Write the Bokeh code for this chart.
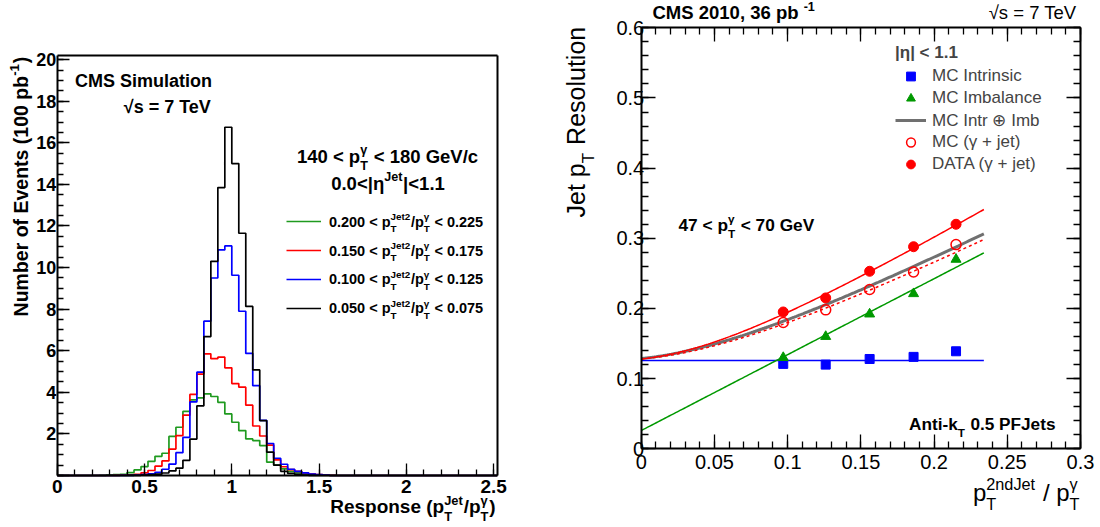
import numpy as np
from math import pi, cos, sin
from bokeh.plotting import figure
from bokeh.layouts import row
from bokeh.models import Range1d, FixedTicker, LinearAxis, Label, Legend, LegendItem
from bokeh.embed import file_html
from bokeh.resources import INLINE

FONT = "Liberation Sans"

# ---------------- left panel data: response histograms ----------------
bin_low = [0.20, 0.24, 0.28, 0.32, 0.36, 0.40, 0.44, 0.48, 0.52, 0.56,
           0.60, 0.64, 0.68, 0.72, 0.76, 0.80, 0.84, 0.88, 0.92, 0.96,
           1.00, 1.04, 1.08, 1.12, 1.16, 1.20, 1.24, 1.28, 1.32, 1.36,
           1.40, 1.44, 1.48, 1.52, 1.56]
BIN_W = 0.04
XL = (0.0, 2.52)
YL = (0.0, 20.2)

h_green = [0.00, 0.01, 0.03, 0.04, 0.06, 0.14, 0.27, 0.43, 0.68, 0.92,
           1.07, 1.88, 2.32, 3.08, 3.64, 3.73, 3.93, 3.80, 3.52, 2.96,
           2.56, 2.16, 1.76, 1.68, 1.44, 0.64, 0.50, 0.32, 0.20, 0.13,
           0.08, 0.05, 0.03, 0.02, 0.01]
h_red = [0.00, 0.00, 0.00, 0.01, 0.02, 0.03, 0.06, 0.13, 0.24, 0.45,
         0.70, 1.27, 1.92, 2.90, 3.90, 4.88, 5.85, 5.62, 5.69, 5.18,
         4.42, 4.25, 3.38, 2.38, 1.90, 1.46, 0.75, 0.42, 0.28, 0.20,
         0.12, 0.07, 0.04, 0.02, 0.01]
h_blue = [0.00, 0.00, 0.00, 0.00, 0.01, 0.01, 0.02, 0.04, 0.08, 0.15,
          0.30, 0.55, 1.10, 1.83, 3.54, 4.97, 7.42, 9.50, 10.85, 11.04,
          9.63, 7.90, 5.87, 4.32, 2.65, 1.54, 0.83, 0.54, 0.30, 0.20,
          0.13, 0.07, 0.04, 0.02, 0.00]
h_black = [0.00, 0.00, 0.00, 0.00, 0.00, 0.01, 0.01, 0.02, 0.04, 0.07,
           0.12, 0.22, 0.35, 0.73, 1.75, 3.35, 6.68, 10.30, 13.85, 16.75,
           15.00, 11.65, 8.13, 5.08, 2.64, 1.12, 0.50, 0.20, 0.10, 0.05,
           0.02, 0.01, 0.00, 0.00, 0.00]
hist_ranges = [("0.200", "0.225"), ("0.150", "0.175"), ("0.100", "0.125"), ("0.050", "0.075")]
hist_series = [h_green, h_red, h_blue, h_black]
hist_colors = ["#1f9a1f", "#ff0000", "#0000ff", "#000000"]

left_xticks = [0.0, 0.5, 1.0, 1.5, 2.0, 2.5]
left_xlabels = ["0", "0.5", "1", "1.5", "2", "2.5"]
left_xminor = [round(0.1 * i, 2) for i in range(26)]
left_yticks = [0, 2, 4, 6, 8, 10, 12, 14, 16, 18, 20]
left_ylabels = ["", "2", "4", "6", "8", "10", "12", "14", "16", "18", "20"]
left_yminor = [0.5 * i for i in range(41)]

# ---------------- right panel data: resolution vs 2nd jet fraction ----------------
XR = (0.0, 0.3)
YR = (0.0, 0.6)
x_pts = [0.097, 0.126, 0.156, 0.186, 0.215]
mc_intrinsic = [0.121, 0.120, 0.128, 0.131, 0.139]
mc_imbalance = [0.130, 0.160, 0.192, 0.221, 0.270]
mc_gjet = [0.180, 0.198, 0.227, 0.252, 0.291]
data_gjet = [0.195, 0.215, 0.253, 0.288, 0.320]

# fit parameters
INTR_CONST = 0.126
IMB_C, IMB_K = 0.026, 1.082
MCFIT_C, MCFIT_K = 0.0225, 1.059
DATAFIT_C, DATAFIT_K = 0.0225, 1.258
FIT_XMAX = 0.234

right_xticks = [0.0, 0.05, 0.1, 0.15, 0.2, 0.25, 0.3]
right_xlabels = ["0", "0.05", "0.1", "0.15", "0.2", "0.25", "0.3"]
right_xminor = [round(0.01 * i, 2) for i in range(31)]
right_yticks = [0.0, 0.1, 0.2, 0.3, 0.4, 0.5, 0.6]
right_ylabels = ["0", "0.1", "0.2", "0.3", "0.4", "0.5", "0.6"]
right_yminor = [round(0.02 * i, 2) for i in range(31)]

# ---------------- layout (pixels) ----------------
FIG_H = 527
W_LEFT, W_RIGHT = 540, 560
L_BOX = (56.7, 496.7, 55.0, 475.0)                       # left, right, top, bottom of plot box
R_BOX = (640.7 - W_LEFT, 1080.0 - W_LEFT, 27.3, 448.3)


def ranges(box, xr, yr, width):
    l, r, t, b = box
    sx = (r - l) / (xr[1] - xr[0])
    sy = (b - t) / (yr[1] - yr[0])
    x_range = Range1d(xr[0] - l / sx, xr[1] + (width - r) / sx)
    y_range = Range1d(yr[0] - (FIG_H - b) / sy, yr[1] + t / sy)
    return x_range, y_range


# ---------------- rich text helper ----------------
BOLD_W = {' ': 278, '.': 278, ',': 278, '<': 584, '=': 584, '+': 584, '-': 333, '/': 278,
          '(': 333, ')': 333, '|': 280, 'A': 722, 'C': 722, 'D': 722, 'E': 667, 'F': 611,
          'G': 778, 'J': 556, 'M': 833, 'N': 722, 'P': 667, 'R': 722, 'S': 667, 'T': 611,
          'V': 667, 'I': 278, 'a': 556, 'b': 611, 'c': 556, 'd': 611, 'e': 556, 'f': 333,
          'i': 278, 'j': 278, 'k': 556, 'l': 278, 'm': 889, 'n': 611, 'o': 611, 'p': 611,
          'r': 389, 's': 556, 't': 333, 'u': 611, 'v': 556, 'η': 611, 'γ': 556, '√': 549}
REG_W = {' ': 278, '.': 278, ',': 278, '<': 584, '=': 584, '+': 584, '-': 333, '/': 278,
         '(': 333, ')': 333, '|': 260, 'A': 667, 'C': 722, 'D': 722, 'E': 667, 'F': 611,
         'G': 778, 'J': 500, 'M': 833, 'N': 722, 'P': 667, 'R': 722, 'S': 667, 'T': 611,
         'V': 667, 'I': 278, 'a': 556, 'b': 556, 'c': 500, 'd': 556, 'e': 556, 'f': 278,
         'i': 222, 'j': 222, 'k': 500, 'l': 222, 'm': 833, 'n': 556, 'o': 556, 'p': 556,
         'r': 333, 's': 500, 't': 278, 'u': 556, 'v': 500, 'η': 556, 'γ': 500, '√': 549}
SCRIPT = 0.68
SUP_RISE = 0.45
SUB_DROP = 0.38
MID = 0.36      # distance from baseline to the middle of the text box, in font sizes


def tw(s, size, bold):
    tab = BOLD_W if bold else REG_W
    return sum(tab.get(c, 556) for c in s) * size / 1000.0


def rich(p, x, y_top, parts, size, bold=True, align="left", angle=0.0, color="black"):
    """x from the figure's left edge, y_top = baseline from the figure's top edge (pixels)."""
    y = FIG_H - y_top
    ss = size * SCRIPT
    pieces = []
    adv = 0.0
    for part in parts:
        if isinstance(part, str):
            lead = len(part) - len(part.lstrip())
            txt = part.strip()
            if txt:
                pieces.append((adv + tw(part[:lead], size, bold), 0.0, txt, size))
            adv += tw(part, size, bold)
        else:
            sub, sup = part
            w = 0.0
            if sub:
                pieces.append((adv, -SUB_DROP * size, sub, ss))
                w = max(w, tw(sub, ss, bold))
            if sup:
                pieces.append((adv, SUP_RISE * size, sup, ss))
                w = max(w, tw(sup, ss, bold))
            adv += w + 0.04 * size
    start = {"left": 0.0, "center": -adv / 2.0, "right": -adv}[align]
    c, s = cos(angle), sin(angle)
    for dx, rise, txt, fs in pieces:
        a = start + dx
        r = rise + MID * fs
        p.add_layout(Label(x=x, y=y, x_units="screen", y_units="screen",
                           x_offset=a * c - r * s, y_offset=a * s + r * c,
                           text=txt, angle=angle, text_font=FONT,
                           text_font_size=f"{fs:.1f}px",
                           text_font_style="bold" if bold else "normal",
                           text_baseline="middle", text_align="left",
                           text_color=color))


def make_axis(loc, bounds, ticks, minor, labels, size, bold, major_in, minor_in, standoff):
    ax = LinearAxis(fixed_location=loc, bounds=bounds,
                    ticker=FixedTicker(ticks=ticks, minor_ticks=minor))
    if labels is not None:
        ax.major_label_overrides = dict(zip(ticks, labels))
        ax.major_label_text_font_size = f"{size}px"
    else:
        ax.major_label_overrides = {t: "" for t in ticks}
        ax.major_label_text_font_size = "0px"
    ax.major_tick_in = major_in
    ax.major_tick_out = 0
    ax.minor_tick_in = minor_in
    ax.minor_tick_out = 0
    ax.major_tick_line_width = 1.3
    ax.minor_tick_line_width = 1.3
    ax.axis_line_width = 2
    ax.axis_line_color = "black"
    ax.major_label_text_font = FONT
    ax.major_label_text_font_style = "bold" if bold else "normal"
    ax.major_label_text_color = "black"
    ax.major_label_standoff = standoff
    return ax


def base_figure(width, x_range, y_range):
    p = figure(width=width, height=FIG_H, x_range=x_range, y_range=y_range,
               x_axis_type=None, y_axis_type=None,
               output_backend="svg", toolbar_location=None,
               min_border_left=0, min_border_right=0, min_border_top=0, min_border_bottom=0)
    p.title.visible = False
    p.xgrid.visible = False
    p.ygrid.visible = False
    p.outline_line_color = None
    p.background_fill_color = "white"
    p.border_fill_color = "white"
    return p


# ---------------- left figure ----------------
xr1, yr1 = ranges(L_BOX, XL, YL, W_LEFT)
p1 = base_figure(W_LEFT, xr1, yr1)
p1.add_layout(make_axis(YL[0], XL, left_xticks, left_xminor, left_xlabels, 19, True, 12, 6, 4), "below")
p1.add_layout(make_axis(XL[0], YL, left_yticks, left_yminor, left_ylabels, 18, True, 12, 6, 1), "left")
p1.add_layout(make_axis(XL[1], YL, [], [], None, 0, False, 0, 0, 0), "right")
p1.add_layout(make_axis(YL[1], XL, [], [], None, 0, False, 0, 0, 0), "above")

hist_renderers = []
for counts, col in zip(hist_series, hist_colors):
    xs = [XL[0]] + bin_low + [bin_low[-1] + BIN_W, XL[1]]
    ys = [0.0] + counts + [0.0, 0.0]
    hist_renderers.append(p1.step(xs, ys, mode="after", line_color=col, line_width=1.7))

leg1 = Legend(items=[LegendItem(label=" ", renderers=[r]) for r in hist_renderers],
              location=(285.5, FIG_H - 317.6), glyph_width=35, glyph_height=20, label_height=20,
              label_width=1, label_standoff=0, spacing=9, padding=0, margin=0,
              border_line_alpha=0, background_fill_alpha=0, label_text_font_size="1px")
p1.add_layout(leg1)

rich(p1, 74.4, 87.2, ["CMS Simulation"], 18, True)
rich(p1, 167.5, 113.0, ["√s = 7 TeV"], 18, True, align="center")
rich(p1, 387.0, 162.5, ["140 < p", ("T", "γ"), " < 180 GeV/c"], 18.5, True, align="center")
rich(p1, 387.5, 189.5, ["0.0<|η", ("", "Jet"), "|<1.1"], 18.5, True, align="center")
for i, (lo, hi) in enumerate(hist_ranges):
    rich(p1, 328.4, 226.4 + 28.9 * i, [f"{lo} < p", ("T", "Jet2"), "/p", ("T", "γ"), f" < {hi}"], 14.5, True)
rich(p1, 495.0, 513.0, ["Response (p", ("T", "Jet"), "/p", ("T", "γ"), ")"], 19, True, align="right")
rich(p1, 27.4, 56.3, ["Number of Events (100 pb", ("", "-1"), ")"], 19.5, True, align="right", angle=pi / 2)

# ---------------- right figure ----------------
xr2, yr2 = ranges(R_BOX, XR, YR, W_RIGHT)
p2 = base_figure(W_RIGHT, xr2, yr2)
p2.add_layout(make_axis(YR[0], XR, right_xticks, right_xminor, right_xlabels, 20, False, 14, 7, 6), "below")
p2.add_layout(make_axis(XR[0], YR, right_yticks, right_yminor, right_ylabels, 20, False, 14, 7, -3), "left")
p2.add_layout(make_axis(XR[1], YR, right_yticks, right_yminor, None, 0, False, 14, 7, 0), "right")
p2.add_layout(make_axis(YR[1], XR, right_xticks, right_xminor, None, 0, False, 14, 7, 0), "above")

xf = np.linspace(0.0, FIT_XMAX, 160)
intr_fit = np.full_like(xf, INTR_CONST)
imb_fit = IMB_C + IMB_K * xf
comb_fit = np.sqrt(intr_fit ** 2 + imb_fit ** 2)
mc_fit = np.sqrt(INTR_CONST ** 2 + (MCFIT_C + MCFIT_K * xf) ** 2)
data_fit = np.sqrt(INTR_CONST ** 2 + (DATAFIT_C + DATAFIT_K * xf) ** 2)

p2.line(xf, intr_fit, line_color="#0000ff", line_width=1.5)
p2.line(xf, imb_fit, line_color="#009900", line_width=1.5)
r_comb = p2.line(xf, comb_fit, line_color="#707070", line_width=3)
p2.line(xf, mc_fit, line_color="#ff0000", line_width=1.5, line_dash="3 3")
p2.line(xf, data_fit, line_color="#ff0000", line_width=1.5)

r_intr = p2.scatter(x_pts, mc_intrinsic, marker="square", size=9, fill_color="#0000ff", line_color="#0000ff")
r_imb = p2.scatter(x_pts, mc_imbalance, marker="triangle", size=10, fill_color="#009900", line_color="#009900")
r_mc = p2.scatter(x_pts, mc_gjet, marker="circle", size=10, fill_alpha=0, line_color="#ff0000", line_width=1.5)
r_data = p2.scatter(x_pts, data_gjet, marker="circle", size=10, fill_color="#ff0000", line_color="#ff0000")

leg2 = Legend(items=[LegendItem(label="MC Intrinsic", renderers=[r_intr]),
                     LegendItem(label="MC Imbalance", renderers=[r_imb]),
                     LegendItem(label="MC Intr ⊕ Imb", renderers=[r_comb]),
                     LegendItem(label="MC (γ + jet)", renderers=[r_mc]),
                     LegendItem(label="DATA (γ + jet)", renderers=[r_data])],
              location=(895.0 - W_LEFT, FIG_H - 175.0), title="|η| < 1.1",
              title_text_font=FONT, title_text_font_style="bold", title_text_font_size="17px",
              label_text_font=FONT, label_text_font_size="17px",
              glyph_width=31, glyph_height=22, label_height=22, spacing=0,
              padding=0, margin=0, label_standoff=6, title_standoff=2,
              border_line_alpha=0, background_fill_alpha=0)
p2.add_layout(leg2)

rich(p2, 652.0 - W_LEFT, 18.5, ["CMS 2010, 36 pb ", ("", "-1")], 18.5, True)
rich(p2, 1078.0 - W_LEFT, 18.5, ["√s = 7 TeV"], 18.5, False, align="right")
rich(p2, 678.0 - W_LEFT, 231.0, ["47 < p", ("T", "γ"), " < 70 GeV"], 17.3, True)
rich(p2, 1055.0 - W_LEFT, 429.5, ["Anti-k", ("T", ""), " 0.5 PFJets"], 17.2, True, align="right")
rich(p2, 584.5 - W_LEFT, 26.3, ["Jet p", ("T", ""), " Resolution"], 25, False, align="right", angle=pi / 2)
rich(p2, 1080.0 - W_LEFT, 500.6, ["p", ("T", "2ndJet"), " / p", ("T", "γ")], 24, False, align="right")

layout = row(p1, p2)
open("out.html", "w").write(file_html(layout, INLINE))
